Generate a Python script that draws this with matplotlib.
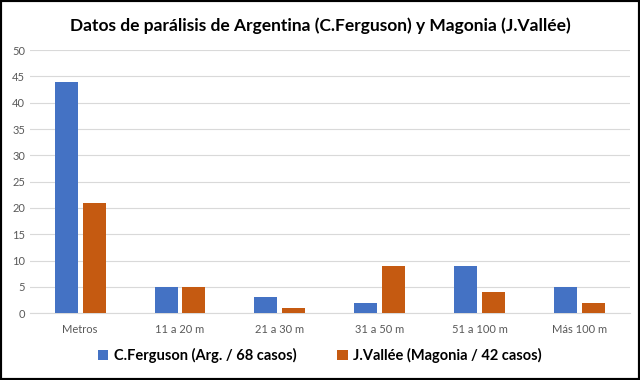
import numpy as np
import matplotlib.pyplot as plt
from matplotlib.patches import Rectangle

categorias = ["Metros", "11 a 20 m", "21 a 30 m", "31 a 50 m", "51 a 100 m", "Más 100 m"]
ferguson = [44, 5, 3, 2, 9, 5]
vallee = [21, 5, 1, 9, 4, 2]
nombres = ["C.Ferguson (Arg. / 68 casos)", "J.Vallée (Magonia / 42 casos)"]

plt.rcParams['font.family'] = ['Lato', 'DejaVu Sans']

fig = plt.figure(figsize=(6.4, 3.8), dpi=100)
ax = fig.add_axes([0.047, 0.176, 0.937, 0.692])

x = np.arange(len(categorias))
w = 0.23
ax.bar(x - 0.14, ferguson, w, color='#4472C4', label=nombres[0], zorder=3)
ax.bar(x + 0.14, vallee, w, color='#C55A11', label=nombres[1], zorder=3)

ax.set_xlim(-0.5, len(categorias) - 0.5)
ax.set_ylim(0, 50)
ax.set_yticks(range(0, 51, 5))
ax.set_xticks(x)
ax.set_xticklabels(categorias)
ax.tick_params(axis='both', length=0, labelsize=8, labelcolor='#595959')
ax.tick_params(axis='x', pad=8)
ax.grid(axis='y', color='#D9D9D9', linewidth=0.8, zorder=0)
for s in ['top', 'right', 'left']:
    ax.spines[s].set_visible(False)
ax.spines['bottom'].set_color('#D9D9D9')

fig.suptitle("Datos de parálisis de Argentina (C.Ferguson) y Magonia (J.Vallée)",
             y=0.955, fontsize=12.5, fontweight='bold')

leg = fig.legend(loc='lower center', bbox_to_anchor=(0.5, 0.01), ncol=2, frameon=False,
                 prop={'weight': 'bold', 'size': 10.5}, handlelength=0.7, handleheight=0.7,
                 columnspacing=2.8, handletextpad=0.4)

fig.patches.append(Rectangle((0, 0), 1, 1, transform=fig.transFigure, fill=False,
                             edgecolor='black', linewidth=3, zorder=10))

fig.savefig('out.png', dpi=100)
